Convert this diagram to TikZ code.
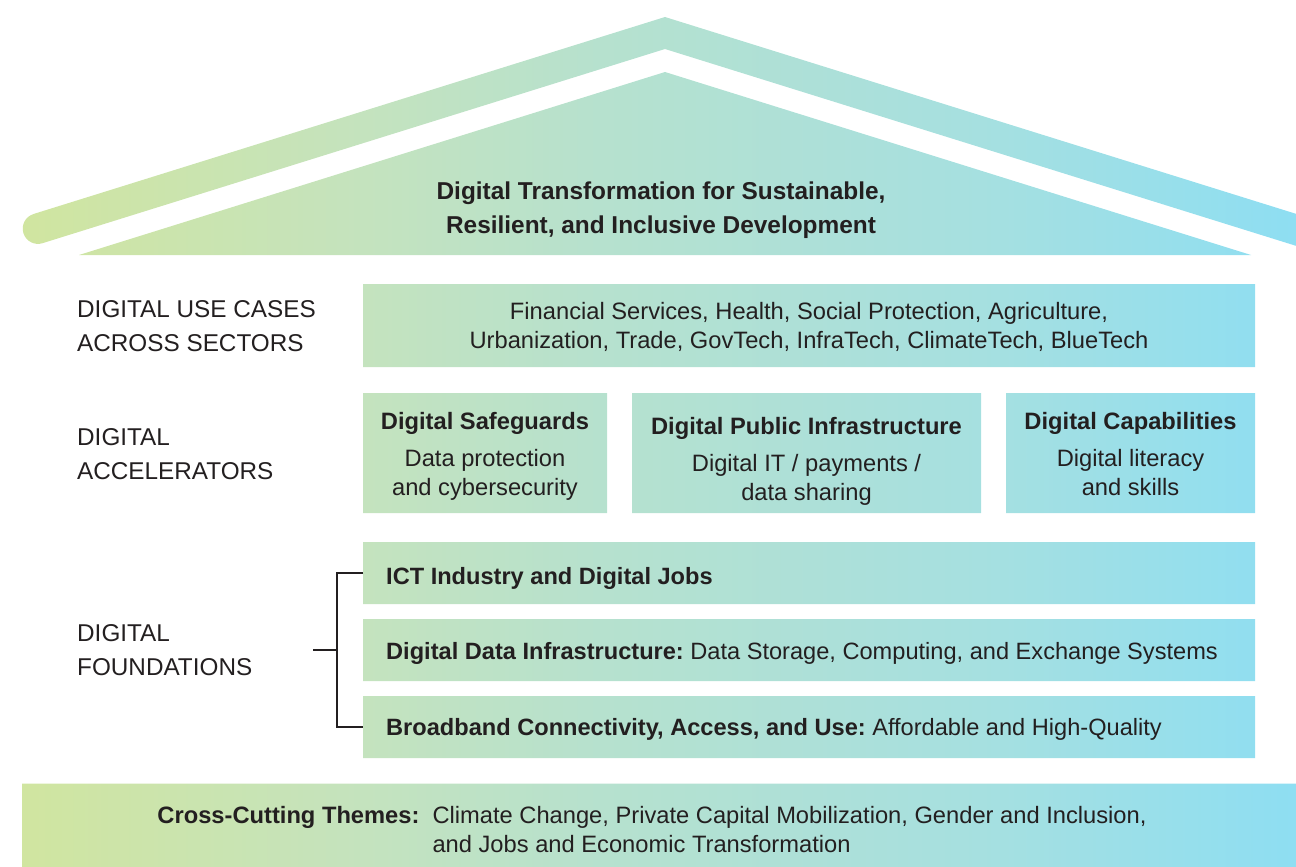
\documentclass[tikz,border=0pt]{standalone}
\usepackage{fontspec}
\setmainfont{Liberation Sans}
\usetikzlibrary{backgrounds}
\definecolor{ink}{HTML}{231F20}
% green-to-cyan wash shared by every panel (25bp..75bp spans the full width)
\pgfdeclarehorizontalshading{themegrad}{100bp}{%
  rgb(0bp)=(0.820,0.898,0.620);
  rgb(25bp)=(0.820,0.898,0.620);
  rgb(39.08bp)=(0.769,0.890,0.745);
  rgb(48.15bp)=(0.714,0.882,0.808);
  rgb(62.81bp)=(0.651,0.878,0.878);
  rgb(75bp)=(0.557,0.871,0.949);
  rgb(100bp)=(0.557,0.871,0.949)}
\frenchspacing
\begin{document}
\begin{tikzpicture}[x=1pt,y=-1pt,
  tile/.style={inner sep=0pt, outer sep=0pt},
  txt/.style={text=ink, inner sep=0pt, font=\fontsize{23.7}{29}\selectfont},
  lbl/.style={txt, anchor=west, align=left, font=\fontsize{24.3}{34}\selectfont},
  fbox/.style={tile, minimum width=892, minimum height=62},
  ftxt/.style={txt, anchor=west, font=\fontsize{23.6}{29}\selectfont},
  bracket/.style={draw=ink, line width=2.6pt}]
\useasboundingbox (0,0) rectangle (1296,867);

% --- roof title
\node[txt, font=\bfseries\fontsize{24.4}{34}\selectfont, align=center] (goal) at (661,210)
  {Digital Transformation for Sustainable,\\Resilient, and Inclusive Development};

% --- row labels
\node[lbl] (lbluse) at (77,326.5) {DIGITAL USE CASES\\ACROSS SECTORS};
\node[lbl] (lblacc) at (77,454) {DIGITAL\\ACCELERATORS};
\node[lbl] (lblfnd) at (77,650) {DIGITAL\\FOUNDATIONS};

% --- use cases
\node[tile, minimum width=892, minimum height=83] (use) at (809,325.5) {};
\node[txt, align=center] (usetxt) at (809,327)
  {Financial Services, Health, Social Protection, Agriculture,\\Urbanization, Trade, GovTech, InfraTech, ClimateTech, BlueTech};

% --- accelerators
\node[tile, minimum width=244, minimum height=120] (safe) at (485,453) {};
\node[tile, minimum width=349, minimum height=120] (dpi) at (806.5,453) {};
\node[tile, minimum width=249, minimum height=120] (capb) at (1130.5,453) {};
\node[txt, align=center] (safetxt) at (485,456)
  {\textbf{Digital Safeguards}\\[8pt]Data protection\\and cybersecurity};
\node[txt, align=center] (dpitxt) at (806.5,461)
  {\textbf{Digital Public Infrastructure}\\[8pt]Digital IT / payments /\\data sharing};
\node[txt, align=center] (captxt) at (1130.5,454)
  {\textbf{Digital Capabilities}\\[8pt]Digital literacy\\and skills};

% --- foundations
\node[fbox] (ict) at (809,573) {};
\node[fbox] (ddi) at (809,650) {};
\node[fbox] (bb) at (809,727) {};
\node[ftxt] (icttxt) at (386,578) {\textbf{ICT Industry and Digital Jobs}};
\node[ftxt] (dditxt) at (386,653.5) {\textbf{Digital Data Infrastructure:} Data Storage, Computing, and Exchange Systems};
\node[ftxt] (bbtxt) at (386,729) {\textbf{Broadband Connectivity, Access, and Use:} Affordable and High-Quality};

% --- bracket grouping the foundations
\coordinate (stem) at (313,650);
\coordinate (spine) at (337,650);
\draw[bracket] (ict.west) -- ++(-26,0) |- (bb.west);
\draw[bracket] (stem) -- (spine);

% --- cross-cutting band
\node[tile, minimum width=1280, minimum height=86] (cross) at (662,826.5) {};
\node[txt] (crosstxt) at (652,832)
  {\begin{tabular}{@{}r@{\hspace{13pt}}l@{}}
   \textbf{Cross-Cutting Themes:} & Climate Change, Private Capital Mobilization, Gender and Inclusion,\\
   & and Jobs and Economic Transformation
   \end{tabular}};

% --- shared gradient fill behind everything
\begin{scope}[on background layer]
  \clip (33.5,214.0) -- (665,17) -- (1302,215.7) -- (1302,247.7) -- (665,49)
        -- (42.5,243.2) arc[start angle=72.7, end angle=252.7, radius=15.25] -- cycle
        (79,255) -- (665,72) -- (1251,255) -- cycle
        (use.south west) rectangle (use.north east)
        (safe.south west) rectangle (safe.north east)
        (dpi.south west) rectangle (dpi.north east)
        (capb.south west) rectangle (capb.north east)
        (ict.south west) rectangle (ict.north east)
        (ddi.south west) rectangle (ddi.north east)
        (bb.south west) rectangle (bb.north east)
        (cross.south west) rectangle (cross.north east);
  \shade[shading=themegrad] (0,0) rectangle (1296,867);
\end{scope}
\end{tikzpicture}
\end{document}
